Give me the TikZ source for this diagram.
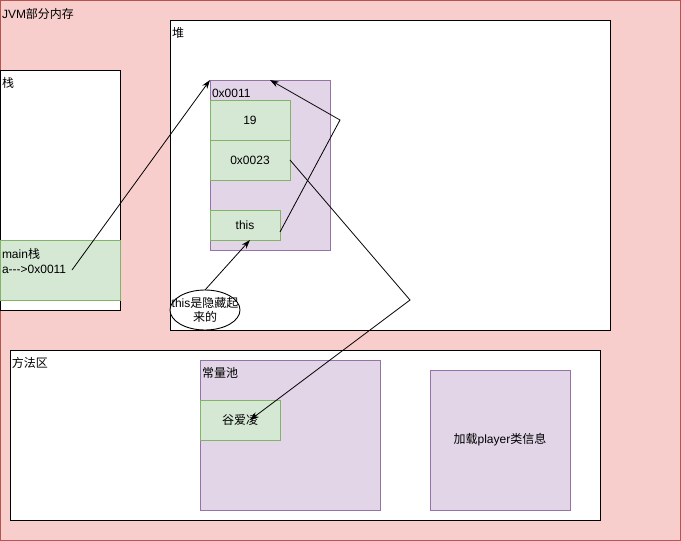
\documentclass[tikz,border=0pt]{standalone}
\usepackage{fontspec}
\setmainfont{Liberation Sans}
\newfontfamily\cjk{Noto Sans CJK SC}
\usetikzlibrary{arrows.meta,shapes.geometric}
\definecolor{jvmfill}{HTML}{F8CECC}
\definecolor{jvmline}{HTML}{B85450}
\definecolor{gfill}{HTML}{D5E8D4}
\definecolor{gline}{HTML}{82B366}
\definecolor{pfill}{HTML}{E1D5E7}
\definecolor{pline}{HTML}{9673A6}
\tikzset{
  every node/.style={font=\fontsize{12}{14}\selectfont, inner sep=0pt, outer sep=0pt},
  area/.style={draw=black, fill=white, line width=0.9pt, anchor=north west},
  gbox/.style={draw=gline, fill=gfill, line width=0.9pt, anchor=north west},
  pbox/.style={draw=pline, fill=pfill, line width=0.9pt, anchor=north west},
  lbl/.style={anchor=west},
  conn/.style={draw=black, line width=0.8pt, -{Stealth[length=9pt,width=6pt]}},
}
\begin{document}
\begin{tikzpicture}[x=1pt,y=-1pt]
\useasboundingbox (0,0) rectangle (681,541);
% outer
\node[draw=jvmline, fill=jvmfill, line width=0.9pt, anchor=north west, minimum width=680pt, minimum height=540pt] (jvm) at (0.5,0.5) {};
\node[lbl] (jvml) at (2,14) {JVM{\cjk 部分内存}};
% stack
\node[area, minimum width=120pt, minimum height=240pt] (stack) at (0,70) {};
\node[lbl] (stackl) at (2,83) {\cjk 栈};
\node[gbox, minimum width=120pt, minimum height=60pt] (mainf) at (0,240) {};
\node[lbl] (mainl1) at (2,254) {main{\cjk 栈}};
\node[lbl] (mainl2) at (2,269) {a-\kern0pt-\kern0pt->0x0011};
\coordinate (astart) at (72,270);
% heap
\node[area, minimum width=440pt, minimum height=310pt] (heap) at (170,20) {};
\node[lbl] (heapl) at (172,33) {\cjk 堆};
\node[pbox, minimum width=120pt, minimum height=170pt] (obj) at (210,80) {};
\node[lbl] (objl) at (212,93) {0x0011};
\node[gbox, minimum width=80pt, minimum height=40pt] (age) at (210,100) {};
\node (agel) at (age.center) {19};
\node[gbox, minimum width=80pt, minimum height=40pt] (name) at (210,140) {};
\node (namel) at (name.center) {0x0023};
\node[gbox, minimum width=70pt, minimum height=30pt] (this) at (210,210) {};
\node (thisl) at (this.center) {this};
\node[ellipse, draw=black, fill=white, line width=0.9pt, minimum width=70pt, minimum height=40pt] (hid) at (205,310) {};
\node (hidl1) at (205,303) {this{\cjk 是隐藏起}};
\node (hidl2) at (205,317) {\cjk 来的};
% method area
\node[area, minimum width=590pt, minimum height=170pt] (meth) at (10,350) {};
\node[lbl] (methl) at (12,363) {\cjk 方法区};
\node[pbox, minimum width=180pt, minimum height=150pt] (pool) at (200,360) {};
\node[lbl] (pooll) at (202,373) {\cjk 常量池};
\node[gbox, minimum width=80pt, minimum height=40pt] (gay) at (200,400) {};
\node (gayl) at (gay.center) {\cjk 谷爱凌};
\node[pbox, minimum width=140pt, minimum height=140pt] (cls) at (430,370) {};
\node (clsl) at (cls.center) {{\cjk 加载}player{\cjk 类信息}};
% connectors
\coordinate (bend1) at (340,120);
\coordinate (bend2) at (410,300);
\draw[conn] (astart) -- (obj.north west);
\draw[conn] ([yshift=-7pt]this.east) -- (bend1) -- (obj.north);
\draw[conn] (name.east) -- (bend2) -- ([xshift=10pt]gay.center);
\draw[conn] (hid.north) -- ([xshift=5pt]this.south);
\end{tikzpicture}
\end{document}
